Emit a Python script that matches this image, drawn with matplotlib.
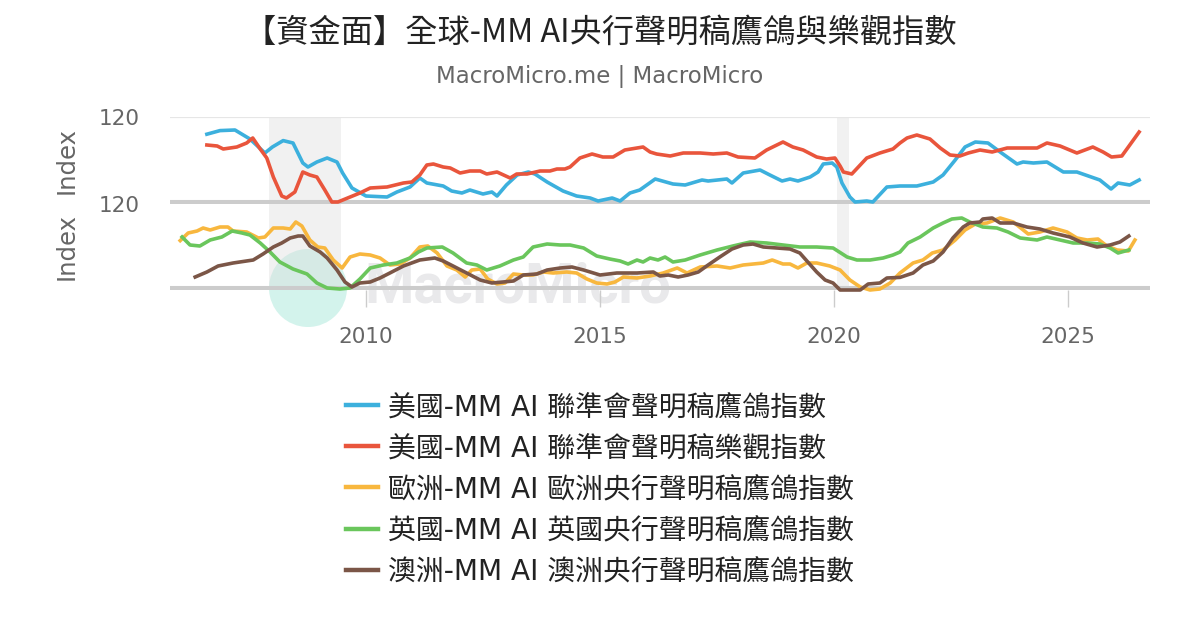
import matplotlib
matplotlib.use('Agg')
import matplotlib.pyplot as plt
from matplotlib.patches import Ellipse
from matplotlib.font_manager import FontProperties

# ---------------- data (decimal year, index value) ----------------
us_hawk_t = [2006.6, 2006.88, 2007.2, 2007.52, 2007.84, 2008.0, 2008.23, 2008.44, 2008.65, 2008.76,
             2008.95, 2009.17, 2009.38, 2009.5, 2009.7, 2010.0, 2010.45, 2010.66, 2010.94, 2011.15,
             2011.3, 2011.65, 2011.83, 2012.05, 2012.22, 2012.5, 2012.69, 2012.8, 2013.0, 2013.23,
             2013.47, 2013.61, 2013.87, 2014.21, 2014.5, 2014.79, 2014.96, 2015.26, 2015.43, 2015.64,
             2015.85, 2016.18, 2016.56, 2016.82, 2017.18, 2017.31, 2017.71, 2017.82, 2018.06, 2018.42,
             2018.63, 2018.89, 2019.06, 2019.23, 2019.49, 2019.66, 2019.77, 2019.96, 2020.06, 2020.17,
             2020.34, 2020.45, 2020.7, 2020.83, 2021.13, 2021.41, 2021.77, 2022.12, 2022.33, 2022.59,
             2022.8, 2023.02, 2023.29, 2023.55, 2023.91, 2024.04, 2024.26, 2024.55, 2024.9, 2025.19,
             2025.68, 2025.92, 2026.07, 2026.32, 2026.52]
us_hawk_v = [111.4, 113.2, 113.5, 109, 102, 105, 108.2, 107, 97, 95,
             97.5, 99.5, 97.5, 92, 84.5, 80.5, 80, 82.5, 85, 89.5,
             87, 85.5, 83, 82, 83.5, 81.5, 82.5, 80.5, 86, 91,
             92.5, 91.5, 87.5, 83, 80.5, 79.5, 78, 79.5, 78, 82,
             83.5, 89, 86.5, 86, 88.5, 88, 89, 87, 92, 93.5,
             91, 88, 89, 88, 90, 92.5, 96.5, 97, 95, 87,
             80, 77.5, 78, 77.5, 85, 85.5, 85.5, 87.5, 91, 98.5,
             105, 107.5, 107, 102.5, 96.5, 97.5, 97, 97.5, 92.5, 92.5,
             88.5, 84, 87, 86, 88.5]

us_opt_t = [2006.6, 2006.82, 2006.95, 2007.24, 2007.45, 2007.58, 2007.74, 2007.88, 2008.02, 2008.2,
            2008.3, 2008.48, 2008.65, 2008.8, 2008.95, 2009.12, 2009.27, 2009.4, 2009.66, 2009.87,
            2010.09, 2010.45, 2010.8, 2010.98, 2011.15, 2011.3, 2011.44, 2011.65, 2011.8, 2012.01,
            2012.22, 2012.44, 2012.58, 2012.8, 2013.08, 2013.22, 2013.44, 2013.72, 2013.93, 2014.08,
            2014.25, 2014.36, 2014.57, 2014.83, 2015.06, 2015.28, 2015.53, 2015.92, 2016.07, 2016.21,
            2016.5, 2016.78, 2017.14, 2017.42, 2017.71, 2017.95, 2018.31, 2018.56, 2018.91, 2019.12,
            2019.34, 2019.63, 2019.84, 2020.02, 2020.13, 2020.2, 2020.38, 2020.52, 2020.7, 2020.98,
            2021.26, 2021.41, 2021.56, 2021.77, 2022.05, 2022.27, 2022.48, 2022.69, 2022.87, 2023.12,
            2023.38, 2023.7, 2023.98, 2024.34, 2024.55, 2024.83, 2025.19, 2025.53, 2025.75, 2025.93,
            2026.15, 2026.32, 2026.52]
us_opt_v = [106, 105.5, 104, 105, 107, 109.5, 104, 99.5, 90, 80.5,
            79.5, 82.5, 92.5, 91, 90, 83.5, 77.5, 77.5, 80, 82,
            84.5, 85, 87, 87.5, 91, 96, 96.5, 95, 94.5, 92,
            93, 93, 91.5, 92.5, 89.5, 91.5, 91.5, 93, 93, 94,
            94, 95, 99.5, 101.5, 100, 100, 103.5, 105, 102.5, 101.5,
            100.5, 102, 102, 101.5, 102, 100, 99.5, 103.5, 107.5, 105,
            103.5, 100, 99, 99.5, 95.5, 92.5, 91.5, 95, 99.5, 102,
            104, 107, 109.5, 111, 109, 104.5, 101, 100.5, 102, 103.5,
            102.5, 104.5, 104.5, 104.5, 107, 105.5, 102, 105, 102.5, 100,
            100.5, 106, 112.5]

eu_hawk_t = [2006.03, 2006.2, 2006.39, 2006.52, 2006.67, 2006.88, 2007.05, 2007.16, 2007.45, 2007.7,
             2007.84, 2008.02, 2008.23, 2008.38, 2008.5, 2008.63, 2008.8, 2008.97, 2009.12, 2009.3,
             2009.49, 2009.66, 2009.87, 2010.09, 2010.3, 2010.51, 2010.73, 2010.94, 2011.15, 2011.32,
             2011.52, 2011.73, 2011.94, 2012.12, 2012.26, 2012.44, 2012.6, 2012.8, 2012.97, 2013.15,
             2013.36, 2013.57, 2013.79, 2014.0, 2014.29, 2014.5, 2014.72, 2014.93, 2015.15, 2015.32,
             2015.5, 2015.79, 2016.07, 2016.35, 2016.65, 2016.86, 2017.14, 2017.5, 2017.78, 2018.06,
             2018.49, 2018.68, 2018.91, 2019.06, 2019.23, 2019.42, 2019.63, 2019.91, 2020.13, 2020.34,
             2020.56, 2020.77, 2020.98, 2021.2, 2021.41, 2021.69, 2021.9, 2022.1, 2022.33, 2022.59,
             2022.8, 2023.02, 2023.27, 2023.55, 2023.83, 2024.15, 2024.4, 2024.68, 2024.98, 2025.19,
             2025.41, 2025.64, 2025.83, 2026.05, 2026.29, 2026.43]
eu_hawk_v = [101.7, 105.5, 106.5, 108, 107, 108.5, 108.5, 106.5, 106, 103,
             103.5, 108, 108, 107.5, 111, 109, 102, 98.5, 98, 92,
             88, 93.5, 95, 94.5, 93, 89.5, 90, 93, 98.5, 99,
             95.5, 89, 87, 83.5, 87, 87.5, 82.5, 80, 80.5, 85,
             84.5, 84.5, 86, 85.5, 86, 85.5, 82.5, 80.5, 80, 81,
             83.5, 83, 84, 85.5, 88, 85.5, 88.5, 89, 88, 89.5,
             90.5, 92, 90, 90, 88, 90.5, 90.5, 89, 87, 82,
             78.5, 77, 77.5, 80.5, 85.5, 90.5, 92, 95.5, 97, 102,
             107, 110, 110.5, 113, 111, 105, 106, 108, 106, 103,
             102, 102.5, 99, 97, 96.5, 102]

uk_hawk_t = [2006.07, 2006.24, 2006.45, 2006.67, 2006.92, 2007.14, 2007.35, 2007.52, 2007.74, 2007.95,
             2008.16, 2008.44, 2008.74, 2008.95, 2009.17, 2009.44, 2009.66, 2009.87, 2010.09, 2010.37,
             2010.66, 2010.94, 2011.12, 2011.3, 2011.63, 2011.86, 2012.15, 2012.37, 2012.58, 2012.86,
             2013.15, 2013.36, 2013.57, 2013.87, 2014.15, 2014.36, 2014.65, 2014.93, 2015.21, 2015.43,
             2015.6, 2015.79, 2015.92, 2016.07, 2016.24, 2016.39, 2016.56, 2016.82, 2017.14, 2017.5,
             2017.84, 2018.21, 2018.56, 2018.91, 2019.27, 2019.63, 2019.98, 2020.28, 2020.49, 2020.77,
             2021.05, 2021.26, 2021.41, 2021.58, 2021.84, 2022.12, 2022.33, 2022.52, 2022.73, 2022.9,
             2023.18, 2023.48, 2023.72, 2023.98, 2024.34, 2024.55, 2024.83, 2025.11, 2025.41, 2025.68,
             2025.9, 2026.07, 2026.3]
uk_hawk_v = [103.5, 99.5, 99, 102, 103.5, 106.5, 105.5, 104.5, 100.5, 96,
             91, 87.5, 85, 80.5, 78, 77.5, 78, 82.5, 88, 89.5,
             90.5, 93, 96, 98, 98.5, 95.5, 90.5, 89.5, 87, 89,
             92, 93.5, 98.5, 100, 99.5, 99.5, 98, 94, 92.5, 91.5,
             90, 92, 91, 93, 92, 93.5, 91, 92, 94.5, 97,
             99, 101, 100.5, 99.5, 98.5, 98.5, 98, 93.5, 92, 92,
             93, 94.5, 96, 100.5, 103.5, 108, 110.5, 112.5, 113, 111,
             108.5, 108, 106, 103, 102, 103.5, 102, 100.5, 100.5, 100,
             98, 95.5, 97]

au_hawk_t = [2006.35, 2006.6, 2006.84, 2007.16, 2007.59, 2007.8, 2008.02, 2008.2, 2008.38, 2008.55,
             2008.65, 2008.8, 2009.02, 2009.17, 2009.38, 2009.55, 2009.7, 2009.87, 2010.09, 2010.3,
             2010.51, 2010.8, 2011.15, 2011.47, 2011.65, 2011.86, 2012.15, 2012.44, 2012.69, 2012.93,
             2013.15, 2013.36, 2013.65, 2013.87, 2014.15, 2014.4, 2014.65, 2015.0, 2015.36, 2015.79,
             2016.14, 2016.28, 2016.46, 2016.67, 2016.88, 2017.1, 2017.31, 2017.56, 2017.82, 2018.06,
             2018.27, 2018.49, 2018.78, 2019.06, 2019.27, 2019.44, 2019.63, 2019.81, 2019.98, 2020.13,
             2020.34, 2020.56, 2020.73, 2020.98, 2021.13, 2021.41, 2021.69, 2021.9, 2022.12, 2022.33,
             2022.54, 2022.76, 2022.9, 2023.12, 2023.18, 2023.38, 2023.55, 2023.83, 2024.12, 2024.4,
             2024.68, 2025.04, 2025.32, 2025.62, 2025.9, 2026.11, 2026.3]
au_hawk_v = [83.5, 86, 89, 90.5, 92, 95, 98.5, 100.5, 103, 104,
             104, 99, 96, 93, 87, 81, 78.5, 80.5, 81, 83,
             85.5, 89, 92, 93, 91.5, 89, 85.5, 82, 80.5, 81,
             81.5, 84.5, 85, 87, 88, 88.5, 87, 84.5, 85.5, 85.5,
             86, 84, 84.5, 83.5, 84.5, 86, 89.5, 93.5, 97.5, 99.5,
             100, 98.5, 98, 97.5, 95.5, 91, 86, 82, 80.5, 77,
             77, 77, 80, 80.5, 83, 83.3, 85.5, 89.5, 91.5, 96,
             103, 108.5, 110.5, 111, 112.5, 113, 110.5, 110.5, 108.5, 107.5,
             105.5, 103.5, 100.5, 98.5, 99.5, 101, 104]

recessions = [(2007.92, 2009.46), (2020.06, 2020.33)]
year_ticks = [2010, 2015, 2020, 2025]
y_tick = [120]

title = '【資金面】全球-MM AI央行聲明稿鷹鴿與樂觀指數'
subtitle = 'MacroMicro.me | MacroMicro'
labels = ['美國-MM AI 聯準會聲明稿鷹鴿指數', '美國-MM AI 聯準會聲明稿樂觀指數',
          '歐洲-MM AI 歐洲央行聲明稿鷹鴿指數', '英國-MM AI 英國央行聲明稿鷹鴿指數',
          '澳洲-MM AI 澳洲央行聲明稿鷹鴿指數']
colors = ['#3cb0dd', '#e9553c', '#f8b73e', '#6ac65c', '#7b5647']

# ---------------- figure ----------------
W, H = 1200, 630
fig = plt.figure(figsize=(12, 6.3), dpi=100)
fig.patch.set_facecolor('white')

left, right = 170 / W, 1150 / W
ax1 = fig.add_axes([left, 1 - 204 / H, right - left, 87 / H])
ax2 = fig.add_axes([left, 1 - 290 / H, right - left, 86 / H], sharex=ax1)
ax1.set_zorder(2)
ax2.set_zorder(2)

# watermark (behind the axes)
fig.patches.append(Ellipse((308 / W, 1 - 288 / H), 78 / W, 78 / H, transform=fig.transFigure,
                           facecolor='#d3f3ec', edgecolor='none', zorder=0.1))
fig.text(364 / W, 1 - 288 / H, 'MacroMicro', fontsize=40.5, fontweight='bold', color='#e9e9eb',
         ha='left', va='center', zorder=0.1, family='Roboto')

xmin = 2010 + (170 - 366) / 46.8
xmax = 2010 + (1150 - 366) / 46.8

tick_font = FontProperties(family=['DejaVu Sans'], size=15.5)

for ax, ylo in ((ax1, 76.5), (ax2, 77)):
    ax.set_facecolor('none')
    ax.set_xlim(xmin, xmax)
    ax.set_ylim(ylo, 120)
    for s in ax.spines.values():
        s.set_visible(False)
    for a, b in recessions:
        ax.axvspan(a, b, color='#dcdcdc', alpha=0.38, zorder=0, lw=0)
    ax.axhline(ylo, color='#cccccc', lw=5.8, zorder=1, solid_capstyle='butt')
    ax.set_yticks(y_tick)
    ax.set_yticklabels(['120'], fontproperties=tick_font, color='#666666')
    ax.tick_params(axis='y', length=0, pad=22)
    ax.set_ylabel('Index', fontproperties=FontProperties(family='DejaVu Sans', size=17.5),
                  color='#666666')
    ax.yaxis.set_label_coords(-0.093, 0.5)

ax1.axhline(120, color='#e6e6e6', lw=1.6, zorder=1)
ax1.tick_params(axis='x', which='both', bottom=False, labelbottom=False)

ax2.set_xticks(year_ticks)
ax2.set_xticklabels([str(y) for y in year_ticks], fontproperties=FontProperties(family='DejaVu Sans', size=15.5),
                    color='#666666')
ax2.tick_params(axis='x', length=12, width=1, color='#cccccc', pad=15)

lw = 2.6
h1, = ax1.plot(us_hawk_t, us_hawk_v, color=colors[0], lw=lw, zorder=3)
h2, = ax1.plot(us_opt_t, us_opt_v, color=colors[1], lw=lw, zorder=3)
h3, = ax2.plot(eu_hawk_t, eu_hawk_v, color=colors[2], lw=lw, zorder=3)
h4, = ax2.plot(uk_hawk_t, uk_hawk_v, color=colors[3], lw=lw, zorder=3)
h5, = ax2.plot(au_hawk_t, au_hawk_v, color=colors[4], lw=lw, zorder=3)
for h in (h1, h2, h3, h4, h5):
    h.set_clip_on(False)

# title / subtitle
fig.text(0.5, 1 - 33 / H, title, ha='center', va='center', fontsize=23.2,
         family=['Noto Sans CJK TC', 'DejaVu Sans'], color='#222222')
fig.text(0.5, 1 - 77 / H, subtitle, ha='center', va='center', fontsize=16.5,
         family=['DejaVu Sans'], color='#666666')

# legend
leg_prop = FontProperties(family=['DejaVu Sans', 'Noto Sans CJK TC'], size=20.1)
handles = [plt.Line2D([], [], color=c, lw=3.2) for c in colors]
leg = fig.legend(handles, labels, loc='upper center', bbox_to_anchor=(0.5, 1 - 379 / H),
                 frameon=False, prop=leg_prop, ncol=1, handlelength=1.15,
                 handletextpad=0.35, labelspacing=0.47, borderpad=0)
for t in leg.get_texts():
    t.set_color('#222222')

fig.savefig('out.png', dpi=100, facecolor='white')
